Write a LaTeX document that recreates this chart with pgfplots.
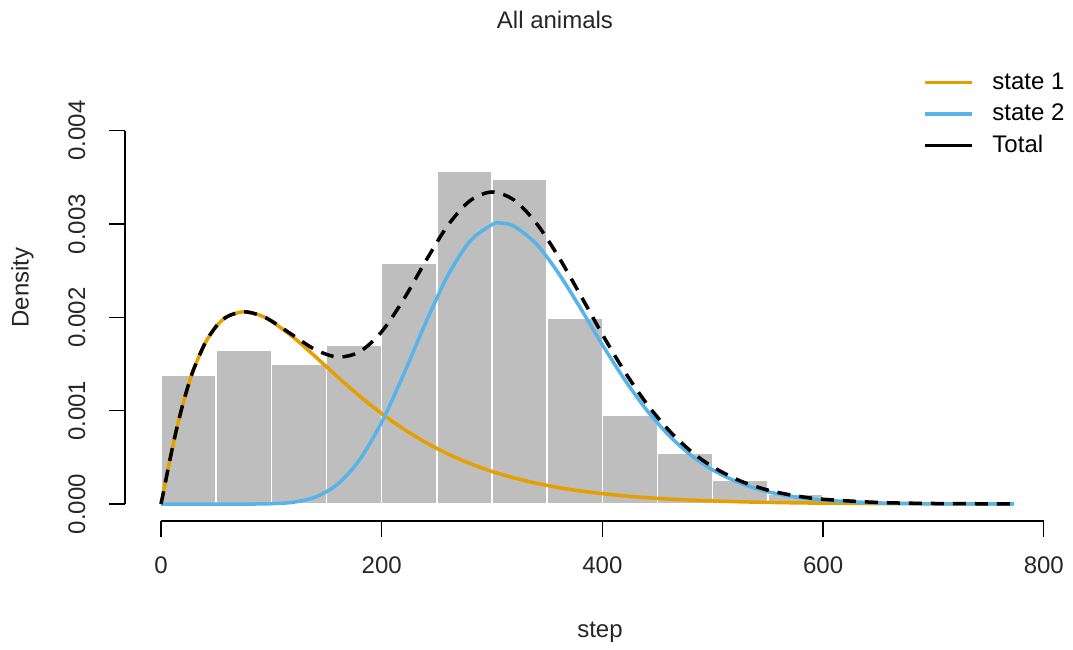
\documentclass[border=0pt]{standalone}
\usepackage{fontspec}
\setmainfont{Liberation Sans}
\usepackage{pgfplots}
\pgfplotsset{compat=1.18}
\definecolor{stA}{HTML}{E69F00}
\definecolor{stB}{HTML}{56B4E9}
\definecolor{histg}{HTML}{BEBEBE}
\begin{document}
\fontsize{24}{28}\selectfont
\begin{tikzpicture}[x=1pt,y=1pt]
\path[use as bounding box] (-125,-128) rectangle (948,521);
\begin{axis}[at={(0,0)}, anchor=south west, scale only axis,
  width=922pt, height=405pt,
  xmin=-32.6, xmax=802.9, ymin=-0.000182, ymax=0.004157,
  clip=false,
  axis lines*=left,
  axis line style={draw=none},
  tick align=outside,
  major tick length=15.5pt,
  tick style={black, line width=1.3pt},
  xtick={0,200,400,600,800},
  xticklabels={0,200,400,600,800},
  ytick={0,0.001,0.002,0.003,0.004},
  yticklabels={0.000,0.001,0.002,0.003,0.004},
  scaled y ticks=false,
  /pgf/number format/assume math mode=true,
  ticklabel style={font=\fontsize{24}{28}\selectfont, text=black!85},
  xticklabel shift=12pt,
  yticklabel shift=16pt,
  yticklabel style={rotate=90, anchor=south},
  legend style={draw=none, fill=none, at={(0.862,1.115)}, anchor=north west,
    font=\fontsize{24}{28}\selectfont, row sep=9pt, column sep=18pt,
    nodes={inner sep=1pt}},
  legend cell align=left,
  legend image code/.code={\draw[#1] (0pt,0pt) -- (47pt,0pt);},
]
\addplot[ybar interval, fill=histg, draw=white, line width=1.5pt, forget plot] coordinates {
(0,0.001376)(50,0.001645)(100,0.001495)(150,0.001699)(200,0.002577)(250,0.00357)
(300,0.003484)(350,0.001986)(400,0.000954)(450,0.000545)(500,0.000255)(550,0.000104)(600,0)};
\addplot[stA, line width=3.5pt, smooth, forget plot] coordinates {
(0,0)(2,0.000111)(5,0.000292)(10,0.000582)(15,0.000845)(20,0.001078)(25,0.001281)(30,0.001455)
(40,0.001724)(50,0.001903)(60,0.002008)(75,0.00206)(90,0.002021)(100,0.001959)(120,0.001786)
(140,0.001578)(160,0.001363)(180,0.001157)(200,0.000969)(220,0.000803)(240,0.000659)(260,0.000537)
(280,0.000434)(300,0.000349)(320,0.000280)(340,0.000223)(360,0.000177)(380,0.000140)(400,0.000111)
(420,0.0000871)(440,0.0000683)(460,0.0000535)(480,0.0000419)(500,0.0000326)(525,0.0000239)
(550,0.0000174)(575,0.0000127)(600,0.0000092)(650,0.0000048)(700,0.0000025)(773,0.000001)};
\addplot[stB, line width=3.5pt, smooth, forget plot] coordinates {
(0,0)(80,0)(100,0.0000032)(120,0.0000193)(140,0.0000749)(160,0.000212)(180,0.000474)(200,0.000877)
(220,0.001391)(240,0.001946)(260,0.002449)(280,0.002815)(300,0.002994)(308,0.00301)(320,0.002976)
(340,0.002788)(360,0.002477)(380,0.002101)(400,0.001706)(420,0.001335)(440,0.001009)(460,0.000739)
(480,0.000526)(500,0.000365)(525,0.000223)(550,0.000132)(575,0.0000753)(600,0.0000419)
(650,0.000012)(700,0.0000031)(773,0.0000004)};
\addplot[black, line width=3.5pt, dash pattern=on 13pt off 9pt, smooth, forget plot] coordinates {
(0,0)(2,0.000111)(5,0.000292)(10,0.000582)(15,0.000845)(20,0.001078)(25,0.001281)(30,0.001455)
(40,0.001724)(50,0.001903)(60,0.002008)(75,0.00206)(90,0.002021)(100,0.001962)(120,0.001805)
(140,0.001653)(160,0.001575)(180,0.001631)(200,0.001846)(220,0.002194)(240,0.002605)(260,0.002986)
(280,0.003249)(300,0.003343)(320,0.003256)(340,0.003011)(360,0.002654)(380,0.002241)(400,0.001817)
(420,0.001422)(440,0.001077)(460,0.000793)(480,0.000568)(500,0.000398)(525,0.000247)(550,0.000149)
(575,0.000088)(600,0.000051)(650,0.0000168)(700,0.0000056)(773,0.0000014)};
\addlegendimage{stA, line width=3.5pt}
\addlegendentry{state 1}
\addlegendimage{stB, line width=3.5pt}
\addlegendentry{state 2}
\addlegendimage{black, line width=3.5pt}
\addlegendentry{Total}
\draw[line width=1.3pt] (axis cs:0,-0.000182) -- (axis cs:800,-0.000182);
\draw[line width=1.3pt] (axis cs:-32.6,0) -- (axis cs:-32.6,0.004);
\end{axis}
\node[text=black!85] at (430,501) {All animals};
\node[text=black!85] at (475,-111) {step};
\node[text=black!85, rotate=90] at (-102.5,233.5) {Density};
\end{tikzpicture}
\end{document}
